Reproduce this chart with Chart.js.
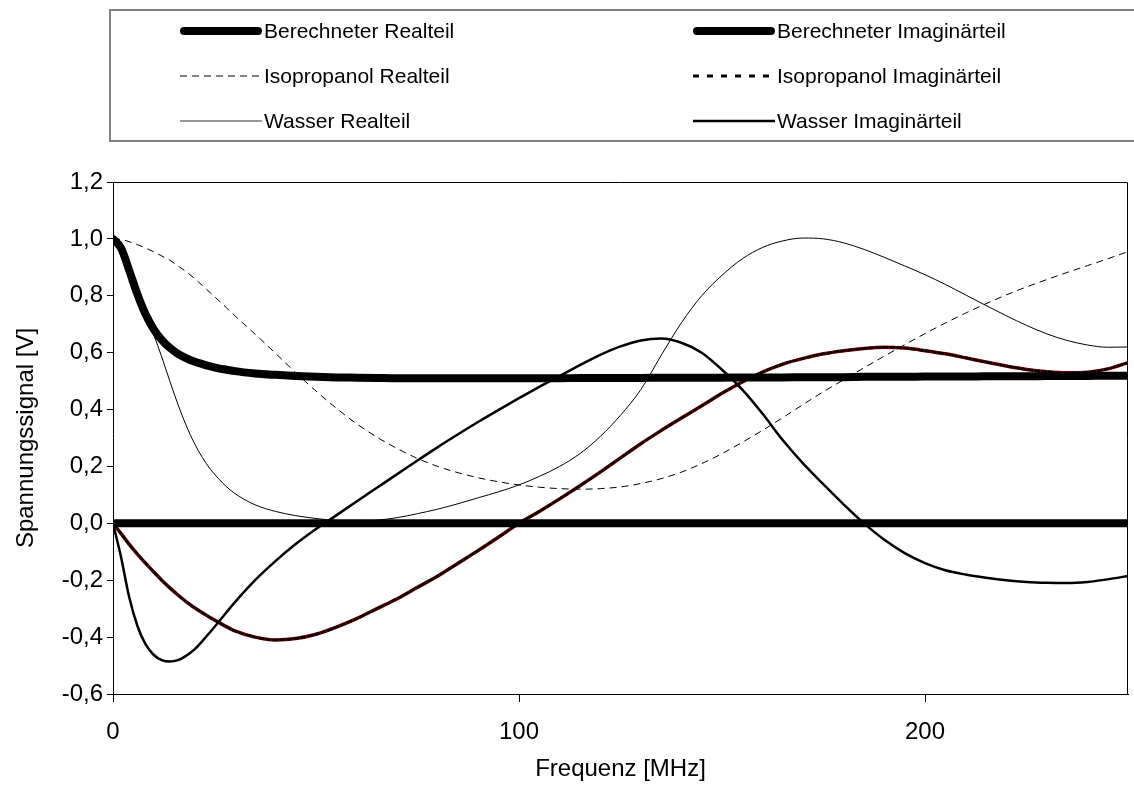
<!DOCTYPE html>
<html>
<head>
<meta charset="utf-8">
<title>Spannungssignal</title>
<script src="https://cdn.jsdelivr.net/npm/chart.js@4/dist/chart.umd.min.js"></script>
<style>
  body { margin: 0; background: #fff; }
  canvas { display: block; }
</style>
</head>
<body>
<canvas id="chart" width="1134" height="792"></canvas>
<script>
'use strict';

// frequency grid in MHz (finer below 30 MHz where the curves bend fast)
let freq = [0, 2, 4, 6, 8, 10, 12, 14, 16, 18, 20, 22, 24, 26, 28, 30,
  35, 40, 45, 50, 55, 60, 65, 70, 75, 80, 85, 90, 95,
  100, 105, 110, 115, 120, 125, 130, 135, 140, 145, 150, 155, 160, 165, 170, 175, 180, 185, 190, 195,
  200, 205, 210, 215, 220, 225, 230, 235, 240, 245, 250];

let berechnetReal = [1.000, 0.967, 0.889, 0.806, 0.736, 0.683, 0.645, 0.617, 0.596, 0.581, 0.569, 0.560, 0.552, 0.545, 0.540, 0.535,
  0.527, 0.522, 0.518, 0.515, 0.513, 0.512, 0.511, 0.510, 0.510, 0.510, 0.510, 0.510, 0.510,
  0.510, 0.510, 0.510, 0.511, 0.511, 0.511, 0.511, 0.512, 0.512, 0.512, 0.512, 0.513, 0.513, 0.513, 0.514, 0.514, 0.514, 0.515, 0.515, 0.515,
  0.516, 0.516, 0.516, 0.517, 0.517, 0.517, 0.518, 0.518, 0.518, 0.519, 0.519];

// the calculated imaginary part is flat zero over the whole band
let berechnetImagFreq = [0, 250];
let berechnetImag = [0, 0];

let isoReal = [1.000, 0.998, 0.990, 0.980, 0.968, 0.955, 0.940, 0.925, 0.905, 0.885, 0.862, 0.836, 0.810, 0.784, 0.757, 0.730,
  0.665, 0.598, 0.530, 0.465, 0.405, 0.350, 0.303, 0.263, 0.228, 0.200, 0.178, 0.160, 0.146,
  0.135, 0.127, 0.122, 0.120, 0.122, 0.128, 0.140, 0.157, 0.180, 0.210, 0.245, 0.285, 0.327, 0.372, 0.418, 0.463, 0.505, 0.547, 0.588, 0.628,
  0.667, 0.704, 0.739, 0.772, 0.803, 0.831, 0.857, 0.882, 0.906, 0.930, 0.955];

let isoImag = [0.000, -0.036, -0.074, -0.108, -0.140, -0.170, -0.200, -0.227, -0.252, -0.275, -0.296, -0.314, -0.332, -0.348, -0.364, -0.378,
  -0.400, -0.410, -0.405, -0.390, -0.365, -0.335, -0.300, -0.265, -0.225, -0.185, -0.140, -0.095, -0.048,
  0.000, 0.042, 0.086, 0.132, 0.180, 0.230, 0.280, 0.326, 0.370, 0.413, 0.457, 0.497, 0.532, 0.560, 0.580, 0.596, 0.607, 0.615, 0.619, 0.616,
  0.607, 0.596, 0.582, 0.567, 0.553, 0.541, 0.533, 0.529, 0.531, 0.543, 0.565];

let wasserReal = [1.000, 0.967, 0.889, 0.805, 0.738, 0.665, 0.585, 0.500, 0.418, 0.345, 0.283, 0.232, 0.190, 0.157, 0.128, 0.105,
  0.065, 0.042, 0.027, 0.017, 0.010, 0.008, 0.011, 0.020, 0.034, 0.050, 0.069, 0.090, 0.111,
  0.135, 0.165, 0.200, 0.245, 0.305, 0.380, 0.470, 0.590, 0.705, 0.800, 0.872, 0.930, 0.970, 0.993, 1.003, 1.000, 0.986, 0.963, 0.935, 0.905,
  0.874, 0.840, 0.803, 0.766, 0.730, 0.696, 0.666, 0.643, 0.627, 0.619, 0.620];

let wasserImag = [0.000, -0.120, -0.260, -0.360, -0.425, -0.462, -0.481, -0.486, -0.481, -0.466, -0.444, -0.414, -0.381, -0.347, -0.312, -0.278,
  -0.200, -0.133, -0.073, -0.020, 0.028, 0.077, 0.125, 0.173, 0.221, 0.268, 0.313, 0.357, 0.399,
  0.440, 0.480, 0.518, 0.556, 0.592, 0.622, 0.643, 0.650, 0.635, 0.600, 0.540, 0.470, 0.385, 0.292, 0.210, 0.137, 0.066, 0.000, -0.058, -0.105,
  -0.140, -0.165, -0.180, -0.191, -0.200, -0.206, -0.209, -0.210, -0.206, -0.197, -0.185];

let xTicks = [0, 100, 200];
let yMin = -0.6;
let yMax = 1.2;

function toPoints(xs, ys) {
  let pts = [];
  for (let i = 0; i < xs.length; i++) {
    pts.push({ x: xs[i], y: ys[i] });
  }
  return pts;
}

let font = '"Liberation Sans", Arial, sans-serif';

// legend drawn as a boxed two-column grid above the plot
let legendGrid = {
  id: 'legendGrid',
  afterDraw(chart) {
    let ctx = chart.ctx;
    ctx.save();
    ctx.strokeStyle = '#808080';
    ctx.lineWidth = 2;
    ctx.strokeRect(110, 10, 1040, 131);
    let items = chart.data.datasets.filter(d => !d.hideInLegend);
    items.forEach((d, i) => {
      let col = i % 2;
      let row = Math.floor(i / 2);
      let x0 = col ? 693 : 180;
      let y = 31 + row * 45;
      let w = d.legendWidth || d.borderWidth;
      let round = w > 4;
      ctx.beginPath();
      ctx.lineWidth = w;
      ctx.lineCap = round ? 'round' : 'butt';
      ctx.setLineDash(d.legendDash || d.borderDash || []);
      ctx.strokeStyle = d.legendColor || d.borderColor;
      ctx.moveTo(x0 + (round ? w / 2 : 0), y);
      ctx.lineTo(x0 + 82 - (round ? w / 2 : 0), y);
      ctx.stroke();
      ctx.setLineDash([]);
      ctx.fillStyle = '#000';
      ctx.font = '21px ' + font;
      ctx.textBaseline = 'middle';
      ctx.fillText(d.label, x0 + 84, y + 1);
    });
    ctx.restore();
  }
};

// top and right edge of the plot frame
let plotFrame = {
  id: 'plotFrame',
  afterDatasetsDraw(chart) {
    let a = chart.chartArea;
    let ctx = chart.ctx;
    ctx.save();
    ctx.strokeStyle = '#000';
    ctx.lineWidth = 1;
    ctx.beginPath();
    ctx.moveTo(a.left, a.top + 0.5);
    ctx.lineTo(a.right - 0.5, a.top + 0.5);
    ctx.lineTo(a.right - 0.5, a.bottom);
    ctx.stroke();
    ctx.restore();
  }
};

let ctx = document.getElementById('chart').getContext('2d');

let chart = new Chart(ctx, {
  type: 'line',
  data: {
    datasets: [
      {
        label: 'Berechneter Realteil',
        data: toPoints(freq, berechnetReal),
        borderColor: '#000',
        borderWidth: 8,
        borderCapStyle: 'round'
      },
      {
        label: 'Berechneter Imaginärteil',
        data: toPoints(berechnetImagFreq, berechnetImag),
        borderColor: '#000',
        borderWidth: 8
      },
      {
        label: 'Isopropanol Realteil',
        data: toPoints(freq, isoReal),
        borderColor: '#000',
        borderWidth: 1,
        borderDash: [7, 5]
      },
      {
        label: 'Isopropanol Imaginärteil',
        data: toPoints(freq, isoImag),
        borderColor: '#000',
        borderWidth: 2.5,
        borderDash: [6, 1],
        legendDash: [6, 8],
        legendWidth: 3
      },
      {
        label: 'Wasser Realteil',
        data: toPoints(freq, wasserReal),
        borderColor: '#000',
        borderWidth: 1,
        legendColor: '#777',
        legendWidth: 1.5
      },
      {
        label: 'Wasser Imaginärteil',
        data: toPoints(freq, wasserImag),
        borderColor: '#000',
        borderWidth: 2.5
      },
      {
        // dark red trace lying under the isopropanol imaginary part
        label: 'Isopropanol Imaginärteil (rot)',
        data: toPoints(freq, isoImag),
        borderColor: '#8b0000',
        borderWidth: 3.5,
        hideInLegend: true
      }
    ]
  },
  options: {
    responsive: false,
    devicePixelRatio: 1,
    animation: false,
    parsing: false,
    elements: {
      point: { radius: 0 },
      line: { cubicInterpolationMode: 'monotone', fill: false }
    },
    layout: {
      padding: { top: 182, right: 6, left: 0, bottom: 0 }
    },
    plugins: {
      legend: { display: false },
      tooltip: { enabled: false }
    },
    scales: {
      x: {
        type: 'linear',
        min: 0,
        max: 250,
        afterFit(scale) { scale.height = 98; },
        afterBuildTicks(scale) { scale.ticks = xTicks.map(v => ({ value: v })); },
        ticks: {
          color: '#000',
          font: { family: font, size: 24 },
          padding: 16,
          maxRotation: 0
        },
        grid: {
          drawOnChartArea: false,
          drawTicks: true,
          tickLength: 8,
          color: '#000'
        },
        border: { display: true, color: '#000', width: 1 },
        title: {
          display: true,
          text: 'Frequenz [MHz]',
          color: '#000',
          font: { family: font, size: 24 },
          padding: { top: 0, bottom: 8 }
        }
      },
      y: {
        type: 'linear',
        min: yMin,
        max: yMax,
        afterFit(scale) { scale.width = 113; },
        ticks: {
          stepSize: 0.2,
          color: '#000',
          font: { family: font, size: 24 },
          padding: 4,
          callback: v => v.toFixed(1).replace('.', ',')
        },
        grid: {
          drawOnChartArea: false,
          drawTicks: true,
          tickLength: 6,
          color: '#000'
        },
        border: { display: true, color: '#000', width: 1 },
        title: {
          display: true,
          text: 'Spannungssignal [V]',
          color: '#000',
          font: { family: font, size: 24 },
          padding: { top: 12, bottom: 0 }
        }
      }
    }
  },
  plugins: [legendGrid, plotFrame]
});
</script>
</body>
</html>
